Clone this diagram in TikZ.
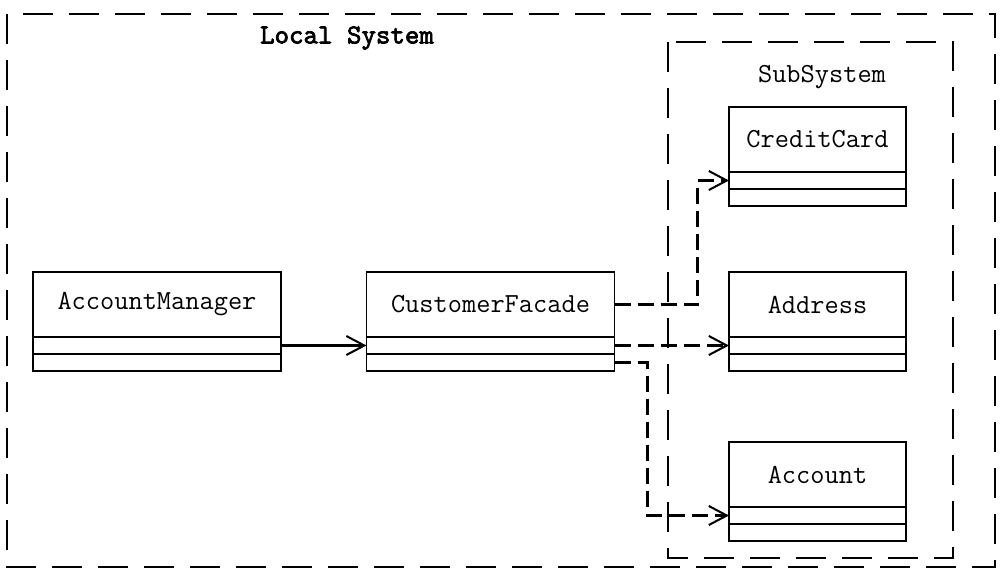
\documentclass[tikz,border=0pt]{standalone}
\usepackage{fontspec}
\newfontfamily\boldtt{lmmono10-regular}[Extension=.otf, FakeBold=2.5]
\usetikzlibrary{arrows.meta, positioning}

\begin{document}
\begin{tikzpicture}[
  every node/.style={font=\ttfamily\fontsize{15.7}{18}\selectfont},
  cls/.style={draw, line width=1.1pt, fill=white, minimum width=4.96cm,
              minimum height=1.3cm, inner sep=0pt, outer sep=0pt},
  comp/.style={draw, line width=1.1pt, fill=white, minimum width=4.96cm,
               minimum height=0.34cm, inner sep=0pt, outer sep=0pt},
  scls/.style={cls, minimum width=3.54cm},
  scomp/.style={comp, minimum width=3.54cm},
  frame/.style={line width=1.1pt, dash pattern=on 0.6cm off 0.32cm},
  assoc/.style={-{Straight Barb[length=0.36cm, width=0.38cm]}, line width=1.15pt},
  dep/.style={assoc, dash pattern=on 0.32cm off 0.14cm}
]
\useasboundingbox (0,0) rectangle (20.02,-11.42);

%% Frames
\draw[frame] (0.14,-0.28) rectangle (19.9,-11.34);
\draw[frame] (13.36,-0.84) rectangle (19.06,-11.16);
\node[font=\boldtt\fontsize{15.7}{18}\selectfont] (local) at (6.94,-0.76) {Local System};
\node (sub) at (16.44,-1.54) {SubSystem};

%% Nodes
\node[cls] (mgr) at (3.14,-6.09) {AccountManager};
\node[comp, below=0pt of mgr]   (mgr-a) {};
\node[comp, below=0pt of mgr-a] (mgr-o) {};

\node[cls] (fac) at (9.81,-6.09) {CustomerFacade};
\node[comp, below=0pt of fac]   (fac-a) {};
\node[comp, below=0pt of fac-a] (fac-o) {};

\node[scls] (cc) at (16.35,-2.79) {CreditCard};
\node[scomp, below=0pt of cc]   (cc-a) {};
\node[scomp, below=0pt of cc-a] (cc-o) {};

\node[scls] (addr) at (16.35,-6.09) {Address};
\node[scomp, below=0pt of addr]   (addr-a) {};
\node[scomp, below=0pt of addr-a] (addr-o) {};

\node[scls] (acc) at (16.35,-9.49) {Account};
\node[scomp, below=0pt of acc]   (acc-a) {};
\node[scomp, below=0pt of acc-a] (acc-o) {};

%% Arrows
\draw[assoc] (mgr-a.east) -- (fac-a.west);
\draw[dep] (fac.east) -- ++(1.66,0) |- (cc-a.west);
\draw[dep] (fac-a.east) -- (addr-a.west);
\draw[dep] (fac-o.east) -- ++(0.66,0) |- (acc-a.west);

\end{tikzpicture}
\end{document}
